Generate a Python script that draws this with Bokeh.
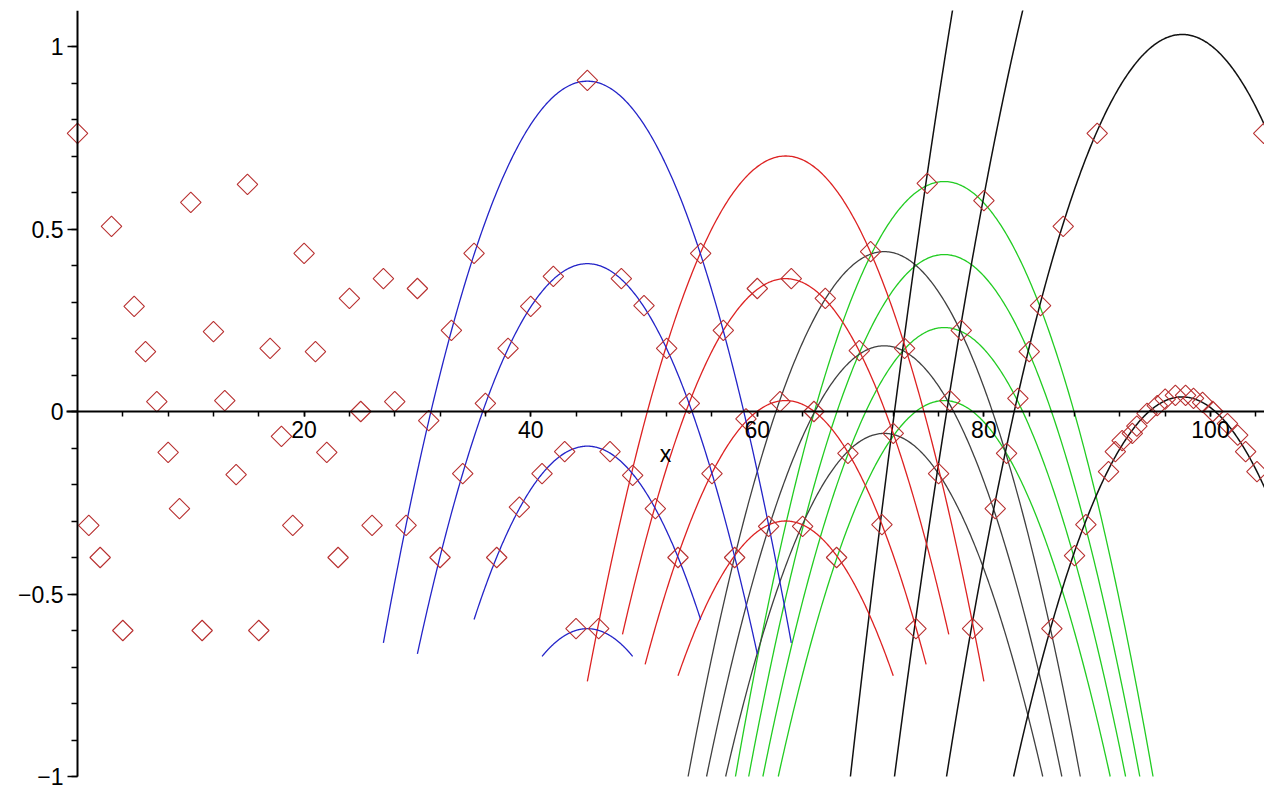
import numpy as np
from bokeh.plotting import figure
from bokeh.models import FixedTicker, Range1d
from bokeh.embed import file_html
from bokeh.resources import INLINE

# ---- data ----
# scattered points (diamonds)
pts_x = list(range(0, 91)) + [91, 91.6, 92.2, 93.1, 93.5, 94.4, 95.3, 96.0, 96.9, 97.8,
                              98.5, 99.3, 100.2, 101.5, 102.4, 103.1, 104.1, 104.7]
pts_y = [0.762, -0.312, -0.400, 0.507, -0.600, 0.288, 0.164, 0.027, -0.112, -0.266,
         0.573, -0.600, 0.219, 0.030, -0.173, 0.622, -0.600, 0.173, -0.068, -0.312,
         0.433, 0.164, -0.112, -0.400, 0.310, 0.000, -0.312, 0.364, 0.027, -0.312,
         0.337, -0.025, -0.400, 0.222, -0.170, 0.433, 0.022, -0.400, 0.173, -0.262,
         0.288, -0.170, 0.370, -0.110, -0.595, 0.907, -0.595, -0.110, 0.364, -0.175,
         0.290, -0.266, 0.173, -0.400, 0.022, 0.433, -0.170, 0.222, -0.400, -0.020,
         0.337, -0.315, 0.027, 0.364, -0.315, 0.000, 0.310, -0.400, -0.115, 0.167,
         0.438, -0.310, -0.060, 0.173, -0.595, 0.625, -0.170, 0.030, 0.222, -0.595,
         0.578, -0.266, -0.115, 0.036, 0.164, 0.290, -0.595, 0.507, -0.395, -0.310,
         0.762,
         -0.165, -0.110, -0.080, -0.060, -0.040, -0.005, 0.016, 0.034, 0.044, 0.044,
         0.036, 0.025, 0.000, -0.033, -0.065, -0.110, -0.165, 0.762]

# parabolic arcs: apex x, apex height, curvature, start x, end x
blue_apex_x = 45.0
blue_curv = 0.00475
blue_tops = [0.905, 0.405, -0.095, -0.595]
blue_lo = [27.0, 30.0, 35.0, 41.0]
blue_hi = [63.0, 60.0, 55.0, 49.0]

red_apex_x = 62.5
red_curv = 0.0047
red_tops = [0.700, 0.364, 0.030, -0.300]
red_lo = [45.0, 48.1, 50.1, 53.0]
red_hi = [80.0, 76.9, 74.9, 72.0]

green_apex_x = 76.5
green_curv = 0.0048
green_tops = [0.630, 0.430, 0.230, 0.030]

bmid_apex_x = 71.2
bmid_curv = 0.0048
bmid_tops = [0.438, 0.180, -0.060]

bright_apex_x = 97.5
bright_curv = 0.0047
bright_tops = [3.03, 2.03, 1.033, 0.040]

BOTTOM = -1.0

W, H = 1264, 790
TOP_GAP = 10
PX_X, X0 = 11.33, 77      # px per x unit, pixel of x = 0
PX_Y, Y0 = 365.0, 411     # px per y unit, pixel of y = 0

p = figure(width=W, height=H,
           x_range=Range1d(-X0 / PX_X, (W - X0) / PX_X),
           y_range=Range1d(-(H - Y0) / PX_Y, (Y0 - TOP_GAP) / PX_Y),
           output_backend="svg", toolbar_location=None, min_border=0,
           min_border_top=TOP_GAP)
p.outline_line_color = None
p.grid.visible = False
p.background_fill_color = "white"


def arc(cx, h, a, lo, hi, color, width=1.3):
    xs = np.linspace(lo, hi, 300)
    ys = h - a * (xs - cx) ** 2
    p.line(xs, ys, line_color=color, line_width=width)


def full_arc(cx, h, a, color, hi_cap=None, width=1.3):
    half = np.sqrt((h - BOTTOM) / a)
    hi = cx + half if hi_cap is None else min(cx + half, hi_cap)
    arc(cx, h, a, cx - half, hi, color, width)


for h in green_tops:
    full_arc(green_apex_x, h, green_curv, "#22cc22")
for h in bmid_tops:
    full_arc(bmid_apex_x, h, bmid_curv, "#404040")
for h in bright_tops:
    full_arc(bright_apex_x, h, bright_curv, "#111111", hi_cap=106, width=1.5)
for h, lo, hi in zip(red_tops, red_lo, red_hi):
    arc(red_apex_x, h, red_curv, lo, hi, "#dd2222")
for h, lo, hi in zip(blue_tops, blue_lo, blue_hi):
    arc(blue_apex_x, h, blue_curv, lo, hi, "#2424c8")

p.scatter(pts_x, pts_y, marker="square", angle=np.pi / 4, size=14.5,
          fill_color=None, line_color="#b83030", line_width=1.1)

FONT = "Liberation Sans"
for ax in (p.xaxis, p.yaxis):
    ax.fixed_location = 0
    ax.axis_line_width = 2
    ax.axis_line_color = "black"
    ax.major_tick_line_color = "black"
    ax.minor_tick_line_color = "black"
    ax.major_tick_line_width = 1.5
    ax.minor_tick_line_width = 1.5
    ax.major_label_text_font = FONT
    ax.major_label_text_font_size = "23px"
    ax.major_label_text_color = "black"

p.xaxis.ticker = FixedTicker(ticks=[20, 40, 60, 80, 100],
                             minor_ticks=list(range(4, 105, 4)))
p.xaxis.bounds = (-1, 105)
p.xaxis.major_tick_in = 0
p.xaxis.major_tick_out = 5
p.xaxis.minor_tick_in = 0
p.xaxis.minor_tick_out = 5
p.xaxis.major_label_standoff = 4
p.xaxis.axis_label = "x"
p.xaxis.axis_label_text_font = FONT
p.xaxis.axis_label_text_font_style = "normal"
p.xaxis.axis_label_text_font_size = "23px"
p.xaxis.axis_label_text_color = "black"
p.xaxis.axis_label_standoff = 0

p.yaxis.ticker = FixedTicker(ticks=[-1, -0.5, 0, 0.5, 1],
                             minor_ticks=[round(-1 + 0.1 * i, 1) for i in range(22)])
p.yaxis.bounds = (-1, 1.1)
p.yaxis.major_tick_in = 0
p.yaxis.major_tick_out = 10
p.yaxis.minor_tick_in = 0
p.yaxis.minor_tick_out = 6
p.yaxis.major_label_standoff = 4
p.yaxis.major_label_overrides = {-1: "\u22121", -0.5: "\u22120.5", 0: "0", 0.5: "0.5", 1: "1"}

open("out.html", "w").write(file_html(p, INLINE))
